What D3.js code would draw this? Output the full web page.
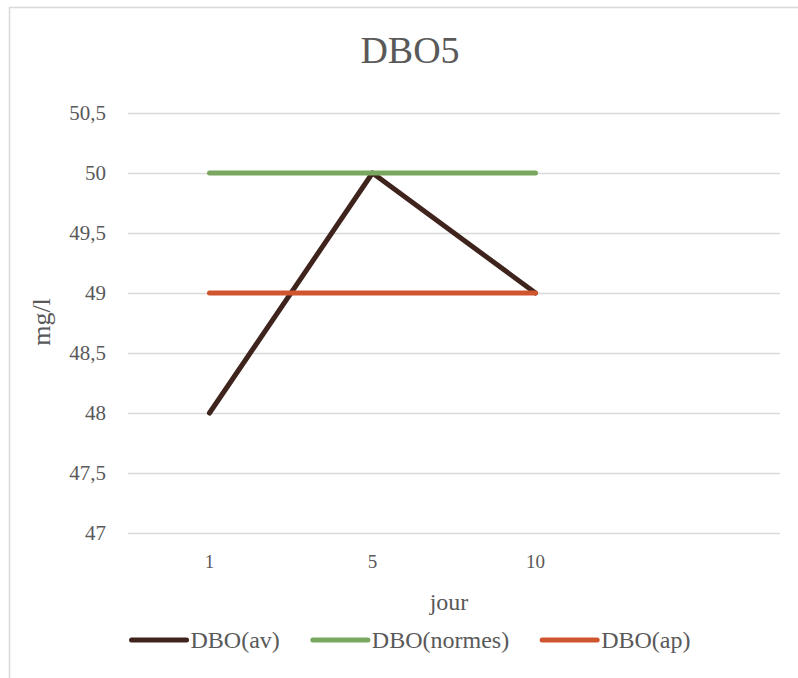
<!DOCTYPE html>
<html>
<head>
<meta charset="utf-8">
<script src="https://cdn.jsdelivr.net/npm/d3@7"></script>
<style>
  html, body { margin: 0; padding: 0; background: #fff; }
  svg, svg text { font-family: "Liberation Serif", "Times New Roman", Tinos, "DejaVu Serif", serif !important; }
</style>
</head>
<body>
<script>
// ---- data ----
const categories = ["1", "5", "10", ""];
const dboAv = [48, 50, 49];
const dboNormes = [50, 50, 50];
const dboAp = [49, 49, 49];
const seriesNames = ["DBO(av)", "DBO(normes)", "DBO(ap)"];
const seriesColors = ["#3f241e", "#79a760", "#cf552e"];
const yTicks = [47, 47.5, 48, 48.5, 49, 49.5, 50, 50.5];
const titleText = "DBO5";
const xTitle = "jour";
const yTitle = "mg/l";

const W = 798, H = 678;
const svg = d3.select("body").append("svg").attr("width", W).attr("height", H);

// chart border
svg.append("rect").attr("x", 9.5).attr("y", 7.5).attr("width", 820).attr("height", 700)
  .attr("fill", "none").attr("stroke", "#d9d9d9").attr("stroke-width", 1.5);

const plot = { left: 128, right: 780, top: 113, bottom: 533 };

const x = d3.scaleBand().domain(categories).range([plot.left, plot.right]);
const y = d3.scaleLinear().domain([47, 50.5]).range([plot.bottom, plot.top]);
const fmt = v => String(v).replace(".", ",");

// gridlines
const yAxis = d3.axisLeft(y).tickValues(yTicks).tickSize(-(plot.right - plot.left)).tickFormat(fmt).tickPadding(22);
const gy = svg.append("g").attr("transform", `translate(${plot.left},0)`).call(yAxis)
  .attr("font-family", null).attr("font-size", null);
gy.select(".domain").remove();
gy.selectAll(".tick line").attr("stroke", "#d9d9d9").attr("stroke-width", 1.3);
gy.selectAll(".tick text").attr("fill", "#595959").style("font-size", "21px");

// x axis labels
const xAxis = d3.axisBottom(x).tickSize(0).tickPadding(22);
const gx = svg.append("g").attr("transform", `translate(0,${plot.bottom})`).call(xAxis)
  .attr("font-family", null).attr("font-size", null);
gx.select(".domain").remove();
gx.selectAll(".tick text").attr("fill", "#595959").style("font-size", "19px");

// lines
const line = d3.line().x((d, i) => x(categories[i]) + x.bandwidth() / 2).y(d => y(d));
[dboAv, dboNormes, dboAp].forEach((s, i) => {
  svg.append("path").datum(s).attr("d", line).attr("fill", "none")
    .attr("stroke", seriesColors[i]).attr("stroke-width", 5)
    .attr("stroke-linecap", "round").attr("stroke-linejoin", "round");
});

// title
svg.append("text").attr("x", 410).attr("y", 63).attr("text-anchor", "middle")
  .attr("fill", "#595959").style("font-size", "38px").text(titleText);

// axis titles
svg.append("text").attr("x", 449).attr("y", 610).attr("text-anchor", "middle")
  .attr("fill", "#595959").style("font-size", "24px").text(xTitle);
svg.append("text").attr("transform", "translate(50,322) rotate(-90)").attr("text-anchor", "middle")
  .attr("fill", "#595959").style("font-size", "26px").text(yTitle);

// legend
const lg = svg.append("g");
let cx = 0;
seriesNames.forEach((n, i) => {
  const g = lg.append("g");
  g.append("line").attr("x1", cx).attr("x2", cx + 55).attr("y1", 640).attr("y2", 640)
    .attr("stroke", seriesColors[i]).attr("stroke-width", 5).attr("stroke-linecap", "round");
  const t = g.append("text").attr("x", cx + 59).attr("y", 648).attr("fill", "#595959")
    .style("font-size", "24px").text(n);
  const w = t.node().getComputedTextLength();
  cx += 59 + w + 33;
});
const total = cx - 33;
lg.attr("transform", `translate(${411 - total / 2},0)`);
</script>
</body>
</html>
